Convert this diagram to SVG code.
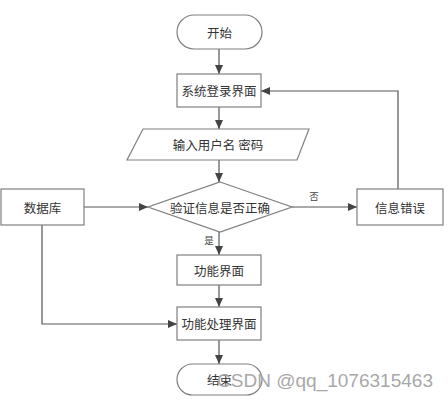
<svg xmlns="http://www.w3.org/2000/svg" width="448" height="400" viewBox="0 0 448 400">
  <style>
    .shape { fill: #ffffff; stroke: #7f7f7f; stroke-width: 1.2; }
    .label { font-family: "Noto Sans CJK SC", "Liberation Serif", serif; font-size: 12.5px; fill: #333333; text-anchor: middle; dominant-baseline: central; }
    .small { font-family: "Noto Sans CJK SC", "Liberation Serif", serif; font-size: 9.5px; fill: #444444; text-anchor: middle; dominant-baseline: central; }
    .conn { fill: none; stroke: #555555; stroke-width: 1.2; marker-end: url(#arrow); }
    .wm { font-family: "Liberation Sans", Arial, sans-serif; font-size: 18.5px; fill: #a8a8a8; }
  </style>
  <defs>
    <marker id="arrow" markerWidth="10" markerHeight="10" refX="9" refY="5" orient="auto" markerUnits="userSpaceOnUse">
      <path d="M0,1 L9,5 L0,9 Z" fill="#444444"/>
    </marker>
  </defs>
  <rect width="448" height="400" fill="#ffffff"/>

  <g id="connectors">
    <path class="conn" d="M219,49 L219,74"/>
    <path class="conn" d="M219,107 L219,129"/>
    <path class="conn" d="M219,160 L219,182"/>
    <path class="conn" d="M84,207 L148,207"/>
    <path class="conn" d="M292,207 L357,207"/>
    <path class="conn" d="M398,189 L398,91 L261,91"/>
    <path class="conn" d="M219,232 L219,255"/>
    <path class="conn" d="M219,285 L219,307"/>
    <path class="conn" d="M42,225 L42,324 L177,324"/>
    <path class="conn" d="M219,340 L219,364"/>
    <text class="small" x="314" y="196">否</text>
    <text class="small" x="209" y="240">是</text>
  </g>

  <g id="start">
    <rect class="shape" x="177" y="15" width="85" height="34" rx="17" ry="17"/>
    <text class="label" x="219.5" y="32">开始</text>
  </g>

  <g id="login">
    <rect class="shape" x="177" y="74" width="84" height="33"/>
    <text class="label" x="219" y="90.5">系统登录界面</text>
  </g>

  <g id="input">
    <polygon class="shape" points="143,129 309,129 297,160 127,160"/>
    <text class="label" x="218" y="144.5">输入用户名 密码</text>
  </g>

  <g id="verify">
    <polygon class="shape" points="220,182 292,207 220,232 148,207"/>
    <text class="label" x="220" y="207">验证信息是否正确</text>
  </g>

  <g id="database">
    <rect class="shape" x="1" y="189" width="83" height="36"/>
    <text class="label" x="42.5" y="207">数据库</text>
  </g>

  <g id="error">
    <rect class="shape" x="357" y="189" width="86" height="36"/>
    <text class="label" x="400" y="207">信息错误</text>
  </g>

  <g id="function">
    <rect class="shape" x="177" y="255" width="84" height="30"/>
    <text class="label" x="219" y="270">功能界面</text>
  </g>

  <g id="process">
    <rect class="shape" x="177" y="307" width="84" height="33"/>
    <text class="label" x="219" y="323.5">功能处理界面</text>
  </g>

  <g id="end">
    <rect class="shape" x="177" y="364" width="85" height="31" rx="15.5" ry="15.5"/>
    <text class="label" x="219.5" y="379.5">结束</text>
  </g>

  <text class="wm" x="217" y="387" textLength="216" lengthAdjust="spacingAndGlyphs">CSDN @qq_1076315463</text>
</svg>
